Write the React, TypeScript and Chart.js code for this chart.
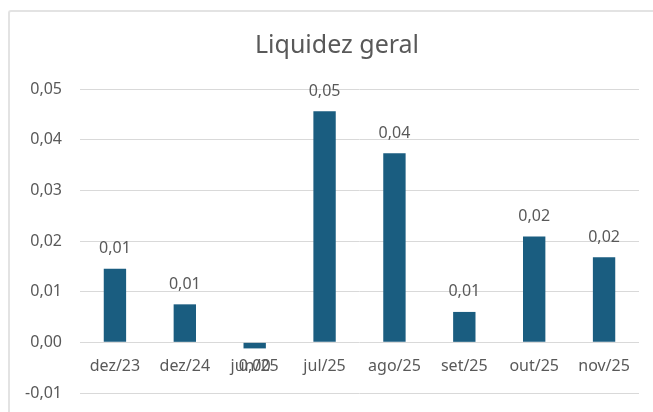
import React, { useEffect, useRef } from "react";
import { Chart, registerables } from "chart.js";

Chart.register(...registerables);

const categories = ["dez/23", "dez/24", "jun/25", "jul/25", "ago/25", "set/25", "out/25", "nov/25"];
const values = [0.0145, 0.0075, -0.0012, 0.0456, 0.0373, 0.006, 0.0209, 0.0168];
const titleText = "Liquidez geral";
const yMin = -0.01;
const yMax = 0.05;
const yStep = 0.01;

const FONT = "'Noto Sans', sans-serif";
const TEXT = "#595959";
const BAR = "#1a5d80";
const GRID = "#d9d9d9";

const fmt = (v: number) => {
  let s = v.toFixed(2);
  if (s === "-0.00") s = "0.00";
  return s.replace(".", ",");
};

const dataLabels = {
  id: "dataLabels",
  afterDatasetsDraw(chart: any) {
    const ctx = chart.ctx;
    const meta = chart.getDatasetMeta(0);
    const ds = chart.data.datasets[0].data as number[];
    ctx.save();
    ctx.font = `16px ${FONT}`;
    ctx.fillStyle = TEXT;
    ctx.textAlign = "center";
    ctx.textBaseline = "middle";
    meta.data.forEach((el: any, i: number) => {
      const v = ds[i];
      const y = v >= 0 ? el.y - 20 : el.y + 18;
      ctx.fillText(fmt(v), el.x, y);
    });
    ctx.restore();
  },
};

const titlePlugin = {
  id: "customTitle",
  afterDraw(chart: any) {
    const ctx = chart.ctx;
    ctx.save();
    ctx.font = `25px ${FONT}`;
    ctx.fillStyle = TEXT;
    ctx.textAlign = "center";
    ctx.textBaseline = "middle";
    ctx.fillText(titleText, 337, 46);
    ctx.restore();
  },
};

export default function App() {
  const ref = useRef<HTMLCanvasElement | null>(null);
  useEffect(() => {
    if (!ref.current) return;
    const chart = new Chart(ref.current, {
      type: "bar",
      data: {
        labels: categories,
        datasets: [
          {
            data: values,
            backgroundColor: BAR,
            categoryPercentage: 1,
            barPercentage: 0.32,
          },
        ],
      },
      options: {
        animation: false,
        responsive: false,
        devicePixelRatio: 1,
        layout: { padding: { left: 0, right: 14, top: 89, bottom: 19 } },
        plugins: {
          legend: { display: false },
          tooltip: { enabled: false },
          title: { display: false },
        },
        scales: {
          x: {
            position: { y: 0 } as any,
            afterFit: (scale: any) => {
              scale.paddingBottom = 0;
              scale.paddingTop = 0;
              scale.height = 0;
            },
            grid: { display: false, drawTicks: false },
            border: { display: false },
            ticks: {
              color: TEXT,
              font: { family: FONT, size: 16 },
              padding: 15,
              maxRotation: 0,
              autoSkip: false,
            },
          },
          y: {
            min: yMin,
            max: yMax,
            afterFit: (scale: any) => {
              scale.width = 80;
              scale.paddingBottom = 0;
              scale.paddingTop = 0;
            },
            grid: { color: GRID, lineWidth: 1, drawTicks: false },
            border: { display: false },
            ticks: {
              stepSize: yStep,
              color: TEXT,
              font: { family: FONT, size: 16 },
              padding: 18,
              callback: (v: any) => fmt(Number(v)),
            },
          },
        },
      },
      plugins: [dataLabels, titlePlugin],
    });
    return () => chart.destroy();
  }, []);
  return (
    <div style={{ position: "fixed", left: 0, top: 0, width: 653, height: 412, background: "#fff", overflow: "hidden" }}>
      <div
        style={{
          position: "absolute",
          left: 8,
          top: 10,
          right: -10,
          bottom: -10,
          borderTop: "2px solid #e3e3e3",
          borderLeft: "2px solid #e3e3e3",
          borderTopLeftRadius: 3,
        }}
      />
      <canvas ref={ref} width={653} height={412} style={{ position: "absolute", left: 0, top: 0 }} />
    </div>
  );
}
